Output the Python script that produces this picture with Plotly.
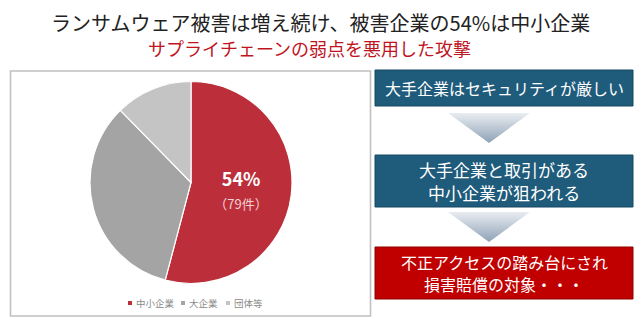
import plotly.graph_objects as go

W, H = 640, 326
FONT = "Noto Sans CJK JP"

# Pie data: share of ransomware victims by organisation type
categories = ["中小企業", "大企業", "団体等"]
counts = [79, 49, 18]
slice_colors = ["#bc2f3a", "#a4a4a4", "#c4c4c4"]

# Headline text
title_main = "ランサムウェア被害は増え続け、被害企業の54%は中小企業"
title_sub = "サプライチェーンの弱点を悪用した攻撃"

# Flow steps on the right (one list of lines per box)
flow_steps = [
    ["大手企業はセキュリティが厳しい"],
    ["大手企業と取引がある", "中小企業が狙われる"],
    ["不正アクセスの踏み台にされ", "損害賠償の対象・・・"],
]
flow_fill = ["#1f5b7b", "#1f5b7b", "#c00000"]
flow_edge = ["#174863", "#174863", "#8f0000"]


def fx(px):
    return px / W


def fy(py):
    return 1 - py / H


fig = go.Figure()

# Pie chart (only the first slice carries a label)
label_tpl = ["<b>%{percent:.0%}</b><br>"
             "<span style='font-size:13px;color:#f3d2d5'>（%{value}件）</span>", "", ""]
fig.add_trace(go.Pie(
    labels=categories,
    values=counts,
    sort=False,
    direction="clockwise",
    rotation=0,
    marker=dict(colors=slice_colors, line=dict(color="white", width=1.2)),
    texttemplate=label_tpl,
    textposition="inside",
    insidetextorientation="horizontal",
    insidetextfont=dict(family=FONT, size=18, color="white"),
    showlegend=False,
    hoverinfo="skip",
    domain=dict(x=[fx(90), fx(292)], y=[fy(283.5), fy(81.5)]),
))

# Gradient chevrons between the flow boxes (pixel-space overlay axes)
arrow_rows = [(113, 143), (212, 242)]
for top, bottom in arrow_rows:
    fig.add_trace(go.Scatter(
        x=[448, 530, 489, 448],
        y=[top, top, bottom, top],
        mode="lines",
        fill="toself",
        fillgradient=dict(type="vertical", start=top, stop=bottom,
                          colorscale=[[0, "#e9edf1"], [1, "#8fa2b7"]]),
        line=dict(width=0, color="rgba(0,0,0,0)"),
        hoverinfo="skip",
        showlegend=False,
    ))

shapes = []
annotations = []

# Frame around the pie chart
shapes.append(dict(type="rect", xref="paper", yref="paper",
                   x0=fx(10.5), x1=fx(370.5), y0=fy(316), y1=fy(71),
                   line=dict(color="#c0c0c0", width=1.6), fillcolor="rgba(0,0,0,0)"))

# Flow boxes
box_rows = [(70, 106), (155, 207), (247, 299)]
box_font = [16, 17, 16]
line_gap = [0, 23, 22]
for (t, b), lines, fc, ec, fs, gap in zip(box_rows, flow_steps, flow_fill, flow_edge,
                                          box_font, line_gap):
    shapes.append(dict(type="rect", xref="paper", yref="paper",
                       x0=fx(375), x1=fx(633), y0=fy(b), y1=fy(t),
                       line=dict(color=ec, width=1), fillcolor=fc))
    mid = (t + b) / 2
    first = mid - gap * (len(lines) - 1) / 2
    for k, txt in enumerate(lines):
        annotations.append(dict(xref="paper", yref="paper", x=fx(504), y=fy(first + k * gap),
                                text=txt, showarrow=False, xanchor="center", yanchor="middle",
                                borderpad=0,
                                font=dict(family=FONT, size=fs, color="white")))

# Headline
annotations.append(dict(xref="paper", yref="paper", x=fx(320), y=fy(22), text=title_main,
                        showarrow=False, xanchor="center", yanchor="middle",
                        font=dict(family=FONT, size=20, color="#222222")))
annotations.append(dict(xref="paper", yref="paper", x=fx(309), y=fy(48), text=title_sub,
                        showarrow=False, xanchor="center", yanchor="middle",
                        font=dict(family=FONT, size=18, color="#c0141e")))

# Compact legend below the pie
legend_x = [128, 181, 226]
for lx, name, col in zip(legend_x, categories, slice_colors):
    shapes.append(dict(type="rect", xref="paper", yref="paper",
                       x0=fx(lx), x1=fx(lx + 4), y0=fy(305), y1=fy(301),
                       line=dict(width=0), fillcolor=col))
    annotations.append(dict(xref="paper", yref="paper", x=fx(lx + 6), y=fy(303), text=name,
                            showarrow=False, xanchor="left", yanchor="middle",
                            font=dict(family=FONT, size=9.5, color="#8a8a8a")))

fig.update_layout(
    width=W, height=H,
    margin=dict(l=0, r=0, t=0, b=0),
    paper_bgcolor="white",
    plot_bgcolor="rgba(0,0,0,0)",
    xaxis=dict(range=[0, W], visible=False, fixedrange=True, domain=[0, 1]),
    yaxis=dict(range=[H, 0], visible=False, fixedrange=True, domain=[0, 1]),
    shapes=shapes,
    annotations=annotations,
    showlegend=False,
)

fig.write_html("out.html")
